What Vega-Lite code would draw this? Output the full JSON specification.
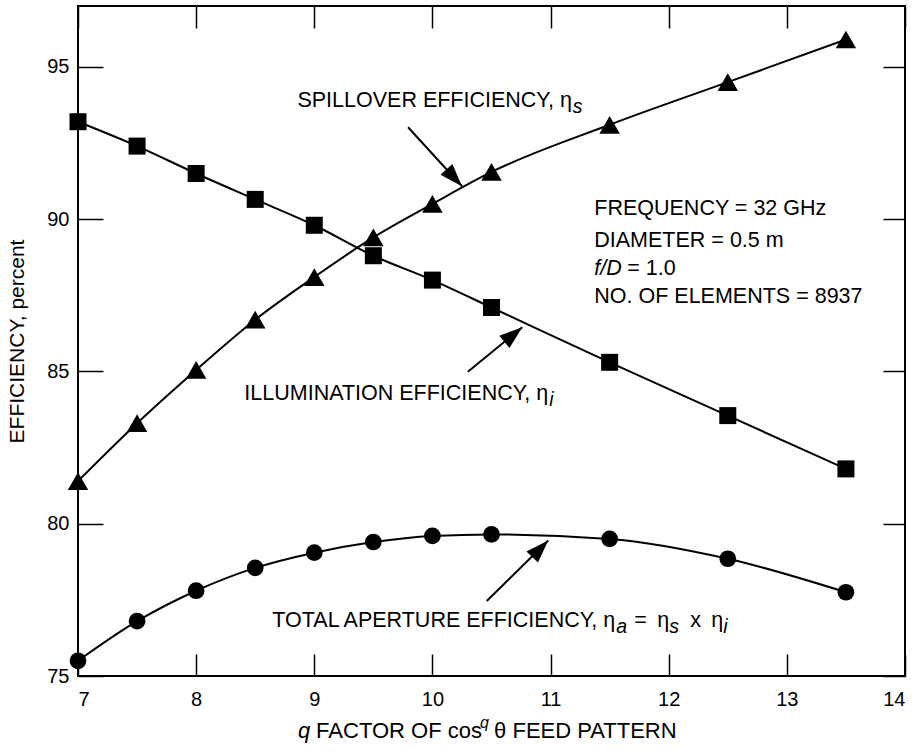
{
  "$schema": "https://vega.github.io/schema/vega-lite/v6.json",
  "width": 827,
  "height": 670,
  "autosize": "none",
  "padding": {"left": 78, "top": 6, "right": 9, "bottom": 76},
  "config": {
    "view": {"stroke": "black", "strokeWidth": 2},
    "font": "Liberation Sans",
    "text": {"font": "Liberation Sans", "color": "black", "baseline": "middle"},
    "axis": {"grid": false, "domain": false, "tickColor": "black", "tickWidth": 1.5, "labelColor": "black", "titleColor": "black", "labelFont": "Liberation Sans", "titleFont": "Liberation Sans", "titleFontWeight": "normal"}
  },
  "datasets": {
    "curves": [
      {"series": "illum", "q": 7, "eff": 93.2},
      {"series": "illum", "q": 7.5, "eff": 92.4},
      {"series": "illum", "q": 8, "eff": 91.5},
      {"series": "illum", "q": 8.5, "eff": 90.65},
      {"series": "illum", "q": 9, "eff": 89.8},
      {"series": "illum", "q": 9.5, "eff": 88.8},
      {"series": "illum", "q": 10, "eff": 88.0},
      {"series": "illum", "q": 10.5, "eff": 87.1},
      {"series": "illum", "q": 11.5, "eff": 85.3},
      {"series": "illum", "q": 12.5, "eff": 83.55},
      {"series": "illum", "q": 13.5, "eff": 81.8},
      {"series": "spill", "q": 7, "eff": 81.4},
      {"series": "spill", "q": 7.5, "eff": 83.3},
      {"series": "spill", "q": 8, "eff": 85.05},
      {"series": "spill", "q": 8.5, "eff": 86.7},
      {"series": "spill", "q": 9, "eff": 88.1},
      {"series": "spill", "q": 9.5, "eff": 89.4},
      {"series": "spill", "q": 10, "eff": 90.5},
      {"series": "spill", "q": 10.5, "eff": 91.55},
      {"series": "spill", "q": 11.5, "eff": 93.1},
      {"series": "spill", "q": 12.5, "eff": 94.5},
      {"series": "spill", "q": 13.5, "eff": 95.9},
      {"series": "total", "q": 7, "eff": 75.5},
      {"series": "total", "q": 7.5, "eff": 76.8},
      {"series": "total", "q": 8, "eff": 77.8},
      {"series": "total", "q": 8.5, "eff": 78.55},
      {"series": "total", "q": 9, "eff": 79.05},
      {"series": "total", "q": 9.5, "eff": 79.4},
      {"series": "total", "q": 10, "eff": 79.6},
      {"series": "total", "q": 10.5, "eff": 79.65},
      {"series": "total", "q": 11.5, "eff": 79.5},
      {"series": "total", "q": 12.5, "eff": 78.85},
      {"series": "total", "q": 13.5, "eff": 77.75}
    ],
    "arrows": [
      {"arrow": "spill", "part": "start", "q": 9.794, "eff": 93.02},
      {"arrow": "spill", "part": "tip", "q": 10.25, "eff": 91.08},
      {"arrow": "illum", "part": "start", "q": 10.30, "eff": 84.99},
      {"arrow": "illum", "part": "tip", "q": 10.76, "eff": 86.45},
      {"arrow": "total", "part": "start", "q": 10.46, "eff": 77.46},
      {"arrow": "total", "part": "tip", "q": 10.98, "eff": 79.45}
    ],
    "one": [{}]
  },
  "resolve": {"axis": {"x": "independent", "y": "independent"}},
  "layer": [
    {
      "data": {"name": "curves"},
      "mark": {"type": "line", "interpolate": "monotone", "color": "black", "strokeWidth": 2},
      "encoding": {
        "x": {"field": "q", "type": "quantitative", "scale": {"domain": [7, 14], "nice": false, "zero": false},
          "axis": {"orient": "bottom", "values": [7, 8, 9, 10, 11, 12, 13, 14], "tickSize": -22, "labelPadding": 35, "labelFontSize": 20, "title": null}},
        "y": {"field": "eff", "type": "quantitative", "scale": {"domain": [75, 97], "nice": false, "zero": false},
          "axis": {"orient": "left", "values": [75, 80, 85, 90, 95], "tickSize": -25, "labelPadding": 34, "labelFontSize": 20, "title": "EFFICIENCY, percent", "titleFontSize": 21, "titlePadding": 19}},
        "detail": {"field": "series"}
      }
    },
    {
      "data": {"name": "curves"},
      "transform": [{"filter": "datum.series === 'illum'"}],
      "mark": {"type": "point", "shape": "square", "filled": true, "color": "black", "opacity": 1, "size": 289},
      "encoding": {
        "x": {"field": "q", "type": "quantitative", "axis": {"orient": "top", "values": [7, 8, 9, 10, 11, 12, 13, 14], "tickSize": -22, "labels": false, "title": null}},
        "y": {"field": "eff", "type": "quantitative", "axis": {"orient": "right", "values": [75, 80, 85, 90, 95], "tickSize": -22, "labels": false, "title": null}}
      }
    },
    {
      "data": {"name": "curves"},
      "transform": [{"filter": "datum.series === 'spill'"}],
      "mark": {"type": "point", "shape": "triangle-up", "filled": true, "color": "black", "opacity": 1, "size": 420},
      "encoding": {
        "x": {"field": "q", "type": "quantitative", "axis": null},
        "y": {"field": "eff", "type": "quantitative", "axis": null}
      }
    },
    {
      "data": {"name": "curves"},
      "transform": [{"filter": "datum.series === 'total'"}],
      "mark": {"type": "point", "shape": "circle", "filled": true, "color": "black", "opacity": 1, "size": 280},
      "encoding": {
        "x": {"field": "q", "type": "quantitative", "axis": null},
        "y": {"field": "eff", "type": "quantitative", "axis": null}
      }
    },
    {
      "data": {"name": "arrows"},
      "mark": {"type": "line", "color": "black", "strokeWidth": 2},
      "encoding": {
        "x": {"field": "q", "type": "quantitative", "axis": null},
        "y": {"field": "eff", "type": "quantitative", "axis": null},
        "detail": {"field": "arrow"}
      }
    },
    {
      "data": {"name": "arrows"},
      "transform": [{"filter": "datum.part === 'tip' && datum.arrow === 'spill'"}],
      "mark": {"type": "point", "shape": "M0,0L-0.7,2L0.7,2Z", "filled": true, "color": "black", "opacity": 1, "size": 529, "angle": 137.6, "strokeWidth": 0},
      "encoding": {"x": {"field": "q", "type": "quantitative", "axis": null}, "y": {"field": "eff", "type": "quantitative", "axis": null}}
    },
    {
      "data": {"name": "arrows"},
      "transform": [{"filter": "datum.part === 'tip' && datum.arrow === 'illum'"}],
      "mark": {"type": "point", "shape": "M0,0L-0.7,2L0.7,2Z", "filled": true, "color": "black", "opacity": 1, "size": 529, "angle": 50.7, "strokeWidth": 0},
      "encoding": {"x": {"field": "q", "type": "quantitative", "axis": null}, "y": {"field": "eff", "type": "quantitative", "axis": null}}
    },
    {
      "data": {"name": "arrows"},
      "transform": [{"filter": "datum.part === 'tip' && datum.arrow === 'total'"}],
      "mark": {"type": "point", "shape": "M0,0L-0.7,2L0.7,2Z", "filled": true, "color": "black", "opacity": 1, "size": 529, "angle": 44, "strokeWidth": 0},
      "encoding": {"x": {"field": "q", "type": "quantitative", "axis": null}, "y": {"field": "eff", "type": "quantitative", "axis": null}}
    },
    {"data": {"name": "one"}, "mark": {"type": "text", "text": "SPILLOVER EFFICIENCY, η", "align": "right", "fontSize": 21.5},
     "encoding": {"x": {"datum": 11.18, "type": "quantitative", "axis": null}, "y": {"datum": 93.87, "type": "quantitative", "axis": null}}},
    {"data": {"name": "one"}, "mark": {"type": "text", "text": "s", "align": "left", "fontSize": 19.5, "fontStyle": "italic", "dx": 1, "dy": 6},
     "encoding": {"x": {"datum": 11.18, "type": "quantitative", "axis": null}, "y": {"datum": 93.87, "type": "quantitative", "axis": null}}},
    {"data": {"name": "one"}, "mark": {"type": "text", "text": "ILLUMINATION EFFICIENCY, η", "align": "right", "fontSize": 21.5},
     "encoding": {"x": {"datum": 10.98, "type": "quantitative", "axis": null}, "y": {"datum": 84.27, "type": "quantitative", "axis": null}}},
    {"data": {"name": "one"}, "mark": {"type": "text", "text": "i", "align": "left", "fontSize": 19.5, "fontStyle": "italic", "dx": 1, "dy": 6},
     "encoding": {"x": {"datum": 10.98, "type": "quantitative", "axis": null}, "y": {"datum": 84.27, "type": "quantitative", "axis": null}}},
    {"data": {"name": "one"}, "mark": {"type": "text", "text": "TOTAL APERTURE EFFICIENCY, η", "align": "right", "fontSize": 21.5},
     "encoding": {"x": {"datum": 11.547, "type": "quantitative", "axis": null}, "y": {"datum": 76.8, "type": "quantitative", "axis": null}}},
    {"data": {"name": "one"}, "mark": {"type": "text", "text": "a", "align": "left", "fontSize": 19.5, "fontStyle": "italic", "dx": 1, "dy": 6},
     "encoding": {"x": {"datum": 11.547, "type": "quantitative", "axis": null}, "y": {"datum": 76.8, "type": "quantitative", "axis": null}}},
    {"data": {"name": "one"}, "mark": {"type": "text", "text": "=", "align": "left", "fontSize": 21.5, "dx": 19},
     "encoding": {"x": {"datum": 11.547, "type": "quantitative", "axis": null}, "y": {"datum": 76.8, "type": "quantitative", "axis": null}}},
    {"data": {"name": "one"}, "mark": {"type": "text", "text": "η", "align": "left", "fontSize": 21.5, "dx": 42},
     "encoding": {"x": {"datum": 11.547, "type": "quantitative", "axis": null}, "y": {"datum": 76.8, "type": "quantitative", "axis": null}}},
    {"data": {"name": "one"}, "mark": {"type": "text", "text": "s", "align": "left", "fontSize": 19.5, "fontStyle": "italic", "dx": 54, "dy": 6},
     "encoding": {"x": {"datum": 11.547, "type": "quantitative", "axis": null}, "y": {"datum": 76.8, "type": "quantitative", "axis": null}}},
    {"data": {"name": "one"}, "mark": {"type": "text", "text": "x", "align": "left", "fontSize": 21.5, "dx": 75},
     "encoding": {"x": {"datum": 11.547, "type": "quantitative", "axis": null}, "y": {"datum": 76.8, "type": "quantitative", "axis": null}}},
    {"data": {"name": "one"}, "mark": {"type": "text", "text": "η", "align": "left", "fontSize": 21.5, "dx": 96},
     "encoding": {"x": {"datum": 11.547, "type": "quantitative", "axis": null}, "y": {"datum": 76.8, "type": "quantitative", "axis": null}}},
    {"data": {"name": "one"}, "mark": {"type": "text", "text": "i", "align": "left", "fontSize": 19.5, "fontStyle": "italic", "dx": 108, "dy": 6},
     "encoding": {"x": {"datum": 11.547, "type": "quantitative", "axis": null}, "y": {"datum": 76.8, "type": "quantitative", "axis": null}}},
    {"data": {"name": "one"}, "mark": {"type": "text", "text": "FREQUENCY = 32 GHz", "align": "left", "fontSize": 21.5},
     "encoding": {"x": {"datum": 11.37, "type": "quantitative", "axis": null}, "y": {"datum": 90.35, "type": "quantitative", "axis": null}}},
    {"data": {"name": "one"}, "mark": {"type": "text", "text": "DIAMETER = 0.5 m", "align": "left", "fontSize": 21.5},
     "encoding": {"x": {"datum": 11.37, "type": "quantitative", "axis": null}, "y": {"datum": 89.3, "type": "quantitative", "axis": null}}},
    {"data": {"name": "one"}, "mark": {"type": "text", "text": "f/D", "align": "left", "fontSize": 21.5, "fontStyle": "italic"},
     "encoding": {"x": {"datum": 11.37, "type": "quantitative", "axis": null}, "y": {"datum": 88.38, "type": "quantitative", "axis": null}}},
    {"data": {"name": "one"}, "mark": {"type": "text", "text": "= 1.0", "align": "left", "fontSize": 21.5, "dx": 33},
     "encoding": {"x": {"datum": 11.37, "type": "quantitative", "axis": null}, "y": {"datum": 88.38, "type": "quantitative", "axis": null}}},
    {"data": {"name": "one"}, "mark": {"type": "text", "text": "NO. OF ELEMENTS = 8937", "align": "left", "fontSize": 21.5},
     "encoding": {"x": {"datum": 11.37, "type": "quantitative", "axis": null}, "y": {"datum": 87.46, "type": "quantitative", "axis": null}}},
    {"data": {"name": "one"}, "mark": {"type": "text", "text": "q", "align": "left", "fontSize": 22, "fontStyle": "italic"},
     "encoding": {"x": {"datum": 8.863, "type": "quantitative", "axis": null}, "y": {"datum": 73.18, "type": "quantitative", "axis": null}}},
    {"data": {"name": "one"}, "mark": {"type": "text", "text": "FACTOR OF cos", "align": "left", "fontSize": 22, "dx": 18},
     "encoding": {"x": {"datum": 8.863, "type": "quantitative", "axis": null}, "y": {"datum": 73.18, "type": "quantitative", "axis": null}}},
    {"data": {"name": "one"}, "mark": {"type": "text", "text": "q", "align": "left", "fontSize": 16, "fontStyle": "italic", "dx": 182, "dy": -8},
     "encoding": {"x": {"datum": 8.863, "type": "quantitative", "axis": null}, "y": {"datum": 73.18, "type": "quantitative", "axis": null}}},
    {"data": {"name": "one"}, "mark": {"type": "text", "text": "θ FEED PATTERN", "align": "left", "fontSize": 22, "dx": 196},
     "encoding": {"x": {"datum": 8.863, "type": "quantitative", "axis": null}, "y": {"datum": 73.18, "type": "quantitative", "axis": null}}}
  ]
}
